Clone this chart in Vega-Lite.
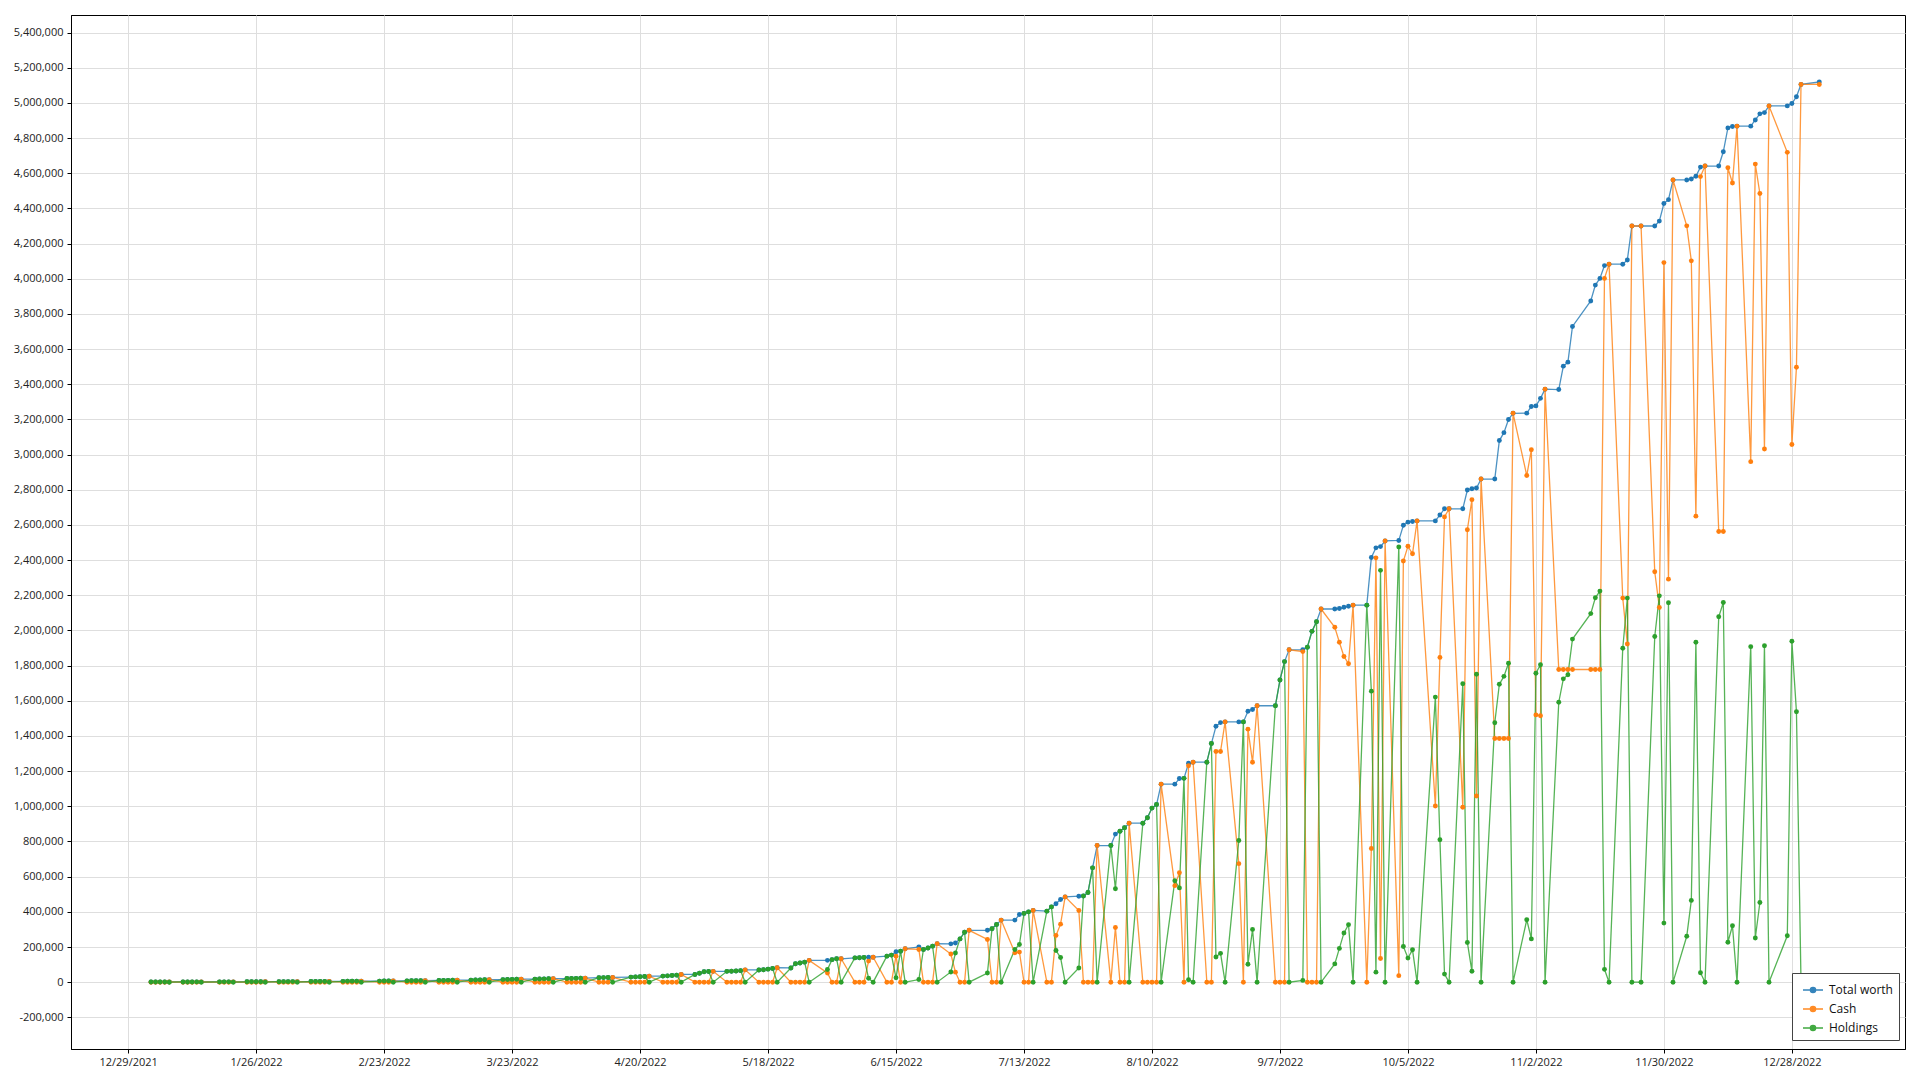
{
"$schema": "https://vega.github.io/schema/vega-lite/v6.json",
"width": 1834, "height": 1034,
"autosize": {"type": "none"},
"padding": {"left": 71, "top": 15, "right": 15, "bottom": 31},
"background": "white",
"config": {
  "font": "Open Sans",
  "view": {"stroke": "#000", "strokeWidth": 1},
  "axis": {"labelFont": "Open Sans", "labelFontSize": 11, "labelColor": "#222", "gridColor": "#dedede", "gridWidth": 1, "domainColor": "#000", "tickColor": "#000", "title": null, "labelOverlap": false, "labelFlush": false}
},
"data": {"values": [
{"d":"2022-01-03","s":"Total worth","v":1000},{"d":"2022-01-04","s":"Total worth","v":1050},{"d":"2022-01-05","s":"Total worth","v":1100},{"d":"2022-01-06","s":"Total worth","v":1150},{"d":"2022-01-07","s":"Total worth","v":1200},
{"d":"2022-01-10","s":"Total worth","v":1300},{"d":"2022-01-11","s":"Total worth","v":1350},{"d":"2022-01-12","s":"Total worth","v":1400},{"d":"2022-01-13","s":"Total worth","v":1500},{"d":"2022-01-14","s":"Total worth","v":1550},
{"d":"2022-01-18","s":"Total worth","v":1650},{"d":"2022-01-19","s":"Total worth","v":1750},{"d":"2022-01-20","s":"Total worth","v":1850},{"d":"2022-01-21","s":"Total worth","v":1950},
{"d":"2022-01-24","s":"Total worth","v":2100},{"d":"2022-01-25","s":"Total worth","v":2200},{"d":"2022-01-26","s":"Total worth","v":2350},{"d":"2022-01-27","s":"Total worth","v":2450},{"d":"2022-01-28","s":"Total worth","v":2600},
{"d":"2022-01-31","s":"Total worth","v":2750},{"d":"2022-02-01","s":"Total worth","v":2900},{"d":"2022-02-02","s":"Total worth","v":3050},{"d":"2022-02-03","s":"Total worth","v":3200},{"d":"2022-02-04","s":"Total worth","v":3400},
{"d":"2022-02-07","s":"Total worth","v":3600},{"d":"2022-02-08","s":"Total worth","v":3800},{"d":"2022-02-09","s":"Total worth","v":4000},{"d":"2022-02-10","s":"Total worth","v":4200},{"d":"2022-02-11","s":"Total worth","v":4400},
{"d":"2022-02-14","s":"Total worth","v":4650},{"d":"2022-02-15","s":"Total worth","v":4900},{"d":"2022-02-16","s":"Total worth","v":5150},{"d":"2022-02-17","s":"Total worth","v":5400},{"d":"2022-02-18","s":"Total worth","v":5700},
{"d":"2022-02-22","s":"Total worth","v":6000},{"d":"2022-02-23","s":"Total worth","v":6400},{"d":"2022-02-24","s":"Total worth","v":6700},{"d":"2022-02-25","s":"Total worth","v":7100},
{"d":"2022-02-28","s":"Total worth","v":7400},{"d":"2022-03-01","s":"Total worth","v":7800},{"d":"2022-03-02","s":"Total worth","v":8200},{"d":"2022-03-03","s":"Total worth","v":8600},{"d":"2022-03-04","s":"Total worth","v":9000},
{"d":"2022-03-07","s":"Total worth","v":9400},{"d":"2022-03-08","s":"Total worth","v":9900},{"d":"2022-03-09","s":"Total worth","v":10400},{"d":"2022-03-10","s":"Total worth","v":10900},{"d":"2022-03-11","s":"Total worth","v":11400},
{"d":"2022-03-14","s":"Total worth","v":11900},{"d":"2022-03-15","s":"Total worth","v":12400},{"d":"2022-03-16","s":"Total worth","v":12900},{"d":"2022-03-17","s":"Total worth","v":13500},{"d":"2022-03-18","s":"Total worth","v":14000},
{"d":"2022-03-21","s":"Total worth","v":14600},{"d":"2022-03-22","s":"Total worth","v":15200},{"d":"2022-03-23","s":"Total worth","v":15800},{"d":"2022-03-24","s":"Total worth","v":16400},{"d":"2022-03-25","s":"Total worth","v":17000},
{"d":"2022-03-28","s":"Total worth","v":17600},{"d":"2022-03-29","s":"Total worth","v":18200},{"d":"2022-03-30","s":"Total worth","v":18800},{"d":"2022-03-31","s":"Total worth","v":19400},{"d":"2022-04-01","s":"Total worth","v":20000},
{"d":"2022-04-04","s":"Total worth","v":20600},{"d":"2022-04-05","s":"Total worth","v":21200},{"d":"2022-04-06","s":"Total worth","v":21800},{"d":"2022-04-07","s":"Total worth","v":22400},{"d":"2022-04-08","s":"Total worth","v":23000},
{"d":"2022-04-11","s":"Total worth","v":25500},{"d":"2022-04-12","s":"Total worth","v":26000},{"d":"2022-04-13","s":"Total worth","v":26500},{"d":"2022-04-14","s":"Total worth","v":27000},
{"d":"2022-04-18","s":"Total worth","v":29000},{"d":"2022-04-19","s":"Total worth","v":30000},{"d":"2022-04-20","s":"Total worth","v":31000},{"d":"2022-04-21","s":"Total worth","v":32000},{"d":"2022-04-22","s":"Total worth","v":34000},
{"d":"2022-04-25","s":"Total worth","v":34500},{"d":"2022-04-26","s":"Total worth","v":36000},{"d":"2022-04-27","s":"Total worth","v":38000},{"d":"2022-04-28","s":"Total worth","v":40000},{"d":"2022-04-29","s":"Total worth","v":44000},
{"d":"2022-05-02","s":"Total worth","v":44000},{"d":"2022-05-03","s":"Total worth","v":51000},{"d":"2022-05-04","s":"Total worth","v":59000},{"d":"2022-05-05","s":"Total worth","v":61000},{"d":"2022-05-06","s":"Total worth","v":61500},
{"d":"2022-05-09","s":"Total worth","v":61500},{"d":"2022-05-10","s":"Total worth","v":62000},{"d":"2022-05-11","s":"Total worth","v":63500},{"d":"2022-05-12","s":"Total worth","v":65500},{"d":"2022-05-13","s":"Total worth","v":70000},
{"d":"2022-05-16","s":"Total worth","v":69500},{"d":"2022-05-17","s":"Total worth","v":71000},{"d":"2022-05-18","s":"Total worth","v":74000},{"d":"2022-05-19","s":"Total worth","v":78000},{"d":"2022-05-20","s":"Total worth","v":82000},
{"d":"2022-05-23","s":"Total worth","v":81000},{"d":"2022-05-24","s":"Total worth","v":105000},{"d":"2022-05-25","s":"Total worth","v":109000},{"d":"2022-05-26","s":"Total worth","v":114000},{"d":"2022-05-27","s":"Total worth","v":124000},
{"d":"2022-05-31","s":"Total worth","v":124000},{"d":"2022-06-01","s":"Total worth","v":128000},{"d":"2022-06-02","s":"Total worth","v":133000},{"d":"2022-06-03","s":"Total worth","v":133000},
{"d":"2022-06-06","s":"Total worth","v":138000},{"d":"2022-06-07","s":"Total worth","v":139000},{"d":"2022-06-08","s":"Total worth","v":140000},{"d":"2022-06-09","s":"Total worth","v":142000},{"d":"2022-06-10","s":"Total worth","v":142000},
{"d":"2022-06-13","s":"Total worth","v":148000},{"d":"2022-06-14","s":"Total worth","v":154000},{"d":"2022-06-15","s":"Total worth","v":173000},{"d":"2022-06-16","s":"Total worth","v":176000},{"d":"2022-06-17","s":"Total worth","v":190000},
{"d":"2022-06-20","s":"Total worth","v":201000},{"d":"2022-06-21","s":"Total worth","v":186000},{"d":"2022-06-22","s":"Total worth","v":194000},{"d":"2022-06-23","s":"Total worth","v":205000},{"d":"2022-06-24","s":"Total worth","v":219000},
{"d":"2022-06-27","s":"Total worth","v":218000},{"d":"2022-06-28","s":"Total worth","v":223000},{"d":"2022-06-29","s":"Total worth","v":246000},{"d":"2022-06-30","s":"Total worth","v":284000},{"d":"2022-07-01","s":"Total worth","v":295000},
{"d":"2022-07-05","s":"Total worth","v":295000},{"d":"2022-07-06","s":"Total worth","v":304000},{"d":"2022-07-07","s":"Total worth","v":328000},{"d":"2022-07-08","s":"Total worth","v":353000},
{"d":"2022-07-11","s":"Total worth","v":353000},{"d":"2022-07-12","s":"Total worth","v":385000},{"d":"2022-07-13","s":"Total worth","v":391000},{"d":"2022-07-14","s":"Total worth","v":400000},{"d":"2022-07-15","s":"Total worth","v":408000},
{"d":"2022-07-18","s":"Total worth","v":404000},{"d":"2022-07-19","s":"Total worth","v":428000},{"d":"2022-07-20","s":"Total worth","v":446000},{"d":"2022-07-21","s":"Total worth","v":470000},{"d":"2022-07-22","s":"Total worth","v":485000},
{"d":"2022-07-25","s":"Total worth","v":489000},{"d":"2022-07-26","s":"Total worth","v":490000},{"d":"2022-07-27","s":"Total worth","v":510000},{"d":"2022-07-28","s":"Total worth","v":650000},{"d":"2022-07-29","s":"Total worth","v":777000},
{"d":"2022-08-01","s":"Total worth","v":777000},{"d":"2022-08-02","s":"Total worth","v":842000},{"d":"2022-08-03","s":"Total worth","v":858000},{"d":"2022-08-04","s":"Total worth","v":878000},{"d":"2022-08-05","s":"Total worth","v":904000},
{"d":"2022-08-08","s":"Total worth","v":904000},{"d":"2022-08-09","s":"Total worth","v":935000},{"d":"2022-08-10","s":"Total worth","v":990000},{"d":"2022-08-11","s":"Total worth","v":1010000},{"d":"2022-08-12","s":"Total worth","v":1126000},
{"d":"2022-08-15","s":"Total worth","v":1126000},{"d":"2022-08-16","s":"Total worth","v":1158000},{"d":"2022-08-17","s":"Total worth","v":1159000},{"d":"2022-08-18","s":"Total worth","v":1245000},{"d":"2022-08-19","s":"Total worth","v":1251000},
{"d":"2022-08-22","s":"Total worth","v":1251000},{"d":"2022-08-23","s":"Total worth","v":1357000},{"d":"2022-08-24","s":"Total worth","v":1455000},{"d":"2022-08-25","s":"Total worth","v":1476000},{"d":"2022-08-26","s":"Total worth","v":1480000},
{"d":"2022-08-29","s":"Total worth","v":1480000},{"d":"2022-08-30","s":"Total worth","v":1480000},{"d":"2022-08-31","s":"Total worth","v":1541000},{"d":"2022-09-01","s":"Total worth","v":1551000},{"d":"2022-09-02","s":"Total worth","v":1572000},
{"d":"2022-09-06","s":"Total worth","v":1572000},{"d":"2022-09-07","s":"Total worth","v":1718000},{"d":"2022-09-08","s":"Total worth","v":1823000},{"d":"2022-09-09","s":"Total worth","v":1890000},
{"d":"2022-09-12","s":"Total worth","v":1890000},{"d":"2022-09-13","s":"Total worth","v":1905000},{"d":"2022-09-14","s":"Total worth","v":1995000},{"d":"2022-09-15","s":"Total worth","v":2050000},{"d":"2022-09-16","s":"Total worth","v":2122000},
{"d":"2022-09-19","s":"Total worth","v":2122000},{"d":"2022-09-20","s":"Total worth","v":2125000},{"d":"2022-09-21","s":"Total worth","v":2132000},{"d":"2022-09-22","s":"Total worth","v":2138000},{"d":"2022-09-23","s":"Total worth","v":2144000},
{"d":"2022-09-26","s":"Total worth","v":2144000},{"d":"2022-09-27","s":"Total worth","v":2415000},{"d":"2022-09-28","s":"Total worth","v":2470000},{"d":"2022-09-29","s":"Total worth","v":2477000},{"d":"2022-09-30","s":"Total worth","v":2509000},
{"d":"2022-10-03","s":"Total worth","v":2512000},{"d":"2022-10-04","s":"Total worth","v":2598000},{"d":"2022-10-05","s":"Total worth","v":2616000},{"d":"2022-10-06","s":"Total worth","v":2620000},{"d":"2022-10-07","s":"Total worth","v":2623000},
{"d":"2022-10-11","s":"Total worth","v":2623000},{"d":"2022-10-12","s":"Total worth","v":2657000},{"d":"2022-10-13","s":"Total worth","v":2692000},{"d":"2022-10-14","s":"Total worth","v":2692000},
{"d":"2022-10-17","s":"Total worth","v":2692000},{"d":"2022-10-18","s":"Total worth","v":2799000},{"d":"2022-10-19","s":"Total worth","v":2806000},{"d":"2022-10-20","s":"Total worth","v":2810000},{"d":"2022-10-21","s":"Total worth","v":2861000},
{"d":"2022-10-24","s":"Total worth","v":2861000},{"d":"2022-10-25","s":"Total worth","v":3080000},{"d":"2022-10-26","s":"Total worth","v":3125000},{"d":"2022-10-27","s":"Total worth","v":3200000},{"d":"2022-10-28","s":"Total worth","v":3235000},
{"d":"2022-10-31","s":"Total worth","v":3236000},{"d":"2022-11-01","s":"Total worth","v":3274000},{"d":"2022-11-02","s":"Total worth","v":3277000},{"d":"2022-11-03","s":"Total worth","v":3320000},{"d":"2022-11-04","s":"Total worth","v":3372000},
{"d":"2022-11-07","s":"Total worth","v":3370000},{"d":"2022-11-08","s":"Total worth","v":3503000},{"d":"2022-11-09","s":"Total worth","v":3526000},{"d":"2022-11-10","s":"Total worth","v":3729000},
{"d":"2022-11-14","s":"Total worth","v":3874000},{"d":"2022-11-15","s":"Total worth","v":3964000},{"d":"2022-11-16","s":"Total worth","v":4002000},{"d":"2022-11-17","s":"Total worth","v":4075000},{"d":"2022-11-18","s":"Total worth","v":4083000},
{"d":"2022-11-21","s":"Total worth","v":4083000},{"d":"2022-11-22","s":"Total worth","v":4107000},{"d":"2022-11-23","s":"Total worth","v":4300000},{"d":"2022-11-25","s":"Total worth","v":4300000},
{"d":"2022-11-28","s":"Total worth","v":4300000},{"d":"2022-11-29","s":"Total worth","v":4328000},{"d":"2022-11-30","s":"Total worth","v":4428000},{"d":"2022-12-01","s":"Total worth","v":4450000},{"d":"2022-12-02","s":"Total worth","v":4562000},
{"d":"2022-12-05","s":"Total worth","v":4562000},{"d":"2022-12-06","s":"Total worth","v":4567000},{"d":"2022-12-07","s":"Total worth","v":4583000},{"d":"2022-12-08","s":"Total worth","v":4635000},{"d":"2022-12-09","s":"Total worth","v":4641000},
{"d":"2022-12-12","s":"Total worth","v":4641000},{"d":"2022-12-13","s":"Total worth","v":4722000},{"d":"2022-12-14","s":"Total worth","v":4858000},{"d":"2022-12-15","s":"Total worth","v":4866000},{"d":"2022-12-16","s":"Total worth","v":4868000},
{"d":"2022-12-19","s":"Total worth","v":4868000},{"d":"2022-12-20","s":"Total worth","v":4903000},{"d":"2022-12-21","s":"Total worth","v":4938000},{"d":"2022-12-22","s":"Total worth","v":4945000},{"d":"2022-12-23","s":"Total worth","v":4983000},
{"d":"2022-12-27","s":"Total worth","v":4983000},{"d":"2022-12-28","s":"Total worth","v":4997000},{"d":"2022-12-29","s":"Total worth","v":5035000},{"d":"2022-12-30","s":"Total worth","v":5105000},{"d":"2023-01-03","s":"Total worth","v":5119000},

{"d":"2022-01-03","s":"Cash","v":0},{"d":"2022-01-04","s":"Cash","v":0},{"d":"2022-01-05","s":"Cash","v":0},{"d":"2022-01-06","s":"Cash","v":0},{"d":"2022-01-07","s":"Cash","v":1200},
{"d":"2022-01-10","s":"Cash","v":0},{"d":"2022-01-11","s":"Cash","v":0},{"d":"2022-01-12","s":"Cash","v":0},{"d":"2022-01-13","s":"Cash","v":0},{"d":"2022-01-14","s":"Cash","v":1550},
{"d":"2022-01-18","s":"Cash","v":0},{"d":"2022-01-19","s":"Cash","v":0},{"d":"2022-01-20","s":"Cash","v":0},{"d":"2022-01-21","s":"Cash","v":1950},
{"d":"2022-01-24","s":"Cash","v":0},{"d":"2022-01-25","s":"Cash","v":0},{"d":"2022-01-26","s":"Cash","v":0},{"d":"2022-01-27","s":"Cash","v":0},{"d":"2022-01-28","s":"Cash","v":2600},
{"d":"2022-01-31","s":"Cash","v":0},{"d":"2022-02-01","s":"Cash","v":0},{"d":"2022-02-02","s":"Cash","v":0},{"d":"2022-02-03","s":"Cash","v":0},{"d":"2022-02-04","s":"Cash","v":3400},
{"d":"2022-02-07","s":"Cash","v":0},{"d":"2022-02-08","s":"Cash","v":0},{"d":"2022-02-09","s":"Cash","v":0},{"d":"2022-02-10","s":"Cash","v":0},{"d":"2022-02-11","s":"Cash","v":4400},
{"d":"2022-02-14","s":"Cash","v":0},{"d":"2022-02-15","s":"Cash","v":0},{"d":"2022-02-16","s":"Cash","v":0},{"d":"2022-02-17","s":"Cash","v":0},{"d":"2022-02-18","s":"Cash","v":5700},
{"d":"2022-02-22","s":"Cash","v":0},{"d":"2022-02-23","s":"Cash","v":0},{"d":"2022-02-24","s":"Cash","v":0},{"d":"2022-02-25","s":"Cash","v":7100},
{"d":"2022-02-28","s":"Cash","v":0},{"d":"2022-03-01","s":"Cash","v":0},{"d":"2022-03-02","s":"Cash","v":0},{"d":"2022-03-03","s":"Cash","v":0},{"d":"2022-03-04","s":"Cash","v":9000},
{"d":"2022-03-07","s":"Cash","v":0},{"d":"2022-03-08","s":"Cash","v":0},{"d":"2022-03-09","s":"Cash","v":0},{"d":"2022-03-10","s":"Cash","v":0},{"d":"2022-03-11","s":"Cash","v":11400},
{"d":"2022-03-14","s":"Cash","v":0},{"d":"2022-03-15","s":"Cash","v":0},{"d":"2022-03-16","s":"Cash","v":0},{"d":"2022-03-17","s":"Cash","v":0},{"d":"2022-03-18","s":"Cash","v":14000},
{"d":"2022-03-21","s":"Cash","v":0},{"d":"2022-03-22","s":"Cash","v":0},{"d":"2022-03-23","s":"Cash","v":0},{"d":"2022-03-24","s":"Cash","v":0},{"d":"2022-03-25","s":"Cash","v":17000},
{"d":"2022-03-28","s":"Cash","v":0},{"d":"2022-03-29","s":"Cash","v":0},{"d":"2022-03-30","s":"Cash","v":0},{"d":"2022-03-31","s":"Cash","v":0},{"d":"2022-04-01","s":"Cash","v":20000},
{"d":"2022-04-04","s":"Cash","v":0},{"d":"2022-04-05","s":"Cash","v":0},{"d":"2022-04-06","s":"Cash","v":0},{"d":"2022-04-07","s":"Cash","v":0},{"d":"2022-04-08","s":"Cash","v":23000},
{"d":"2022-04-11","s":"Cash","v":0},{"d":"2022-04-12","s":"Cash","v":0},{"d":"2022-04-13","s":"Cash","v":0},{"d":"2022-04-14","s":"Cash","v":27000},
{"d":"2022-04-18","s":"Cash","v":0},{"d":"2022-04-19","s":"Cash","v":0},{"d":"2022-04-20","s":"Cash","v":0},{"d":"2022-04-21","s":"Cash","v":0},{"d":"2022-04-22","s":"Cash","v":34000},
{"d":"2022-04-25","s":"Cash","v":0},{"d":"2022-04-26","s":"Cash","v":0},{"d":"2022-04-27","s":"Cash","v":0},{"d":"2022-04-28","s":"Cash","v":0},{"d":"2022-04-29","s":"Cash","v":44000},
{"d":"2022-05-02","s":"Cash","v":0},{"d":"2022-05-03","s":"Cash","v":0},{"d":"2022-05-04","s":"Cash","v":0},{"d":"2022-05-05","s":"Cash","v":0},{"d":"2022-05-06","s":"Cash","v":61500},
{"d":"2022-05-09","s":"Cash","v":0},{"d":"2022-05-10","s":"Cash","v":0},{"d":"2022-05-11","s":"Cash","v":0},{"d":"2022-05-12","s":"Cash","v":0},{"d":"2022-05-13","s":"Cash","v":70000},
{"d":"2022-05-16","s":"Cash","v":0},{"d":"2022-05-17","s":"Cash","v":0},{"d":"2022-05-18","s":"Cash","v":0},{"d":"2022-05-19","s":"Cash","v":0},{"d":"2022-05-20","s":"Cash","v":82000},
{"d":"2022-05-23","s":"Cash","v":0},{"d":"2022-05-24","s":"Cash","v":0},{"d":"2022-05-25","s":"Cash","v":0},{"d":"2022-05-26","s":"Cash","v":0},{"d":"2022-05-27","s":"Cash","v":124000},
{"d":"2022-05-31","s":"Cash","v":52000},{"d":"2022-06-01","s":"Cash","v":0},{"d":"2022-06-02","s":"Cash","v":0},{"d":"2022-06-03","s":"Cash","v":133000},
{"d":"2022-06-06","s":"Cash","v":0},{"d":"2022-06-07","s":"Cash","v":0},{"d":"2022-06-08","s":"Cash","v":0},{"d":"2022-06-09","s":"Cash","v":120000},{"d":"2022-06-10","s":"Cash","v":142000},
{"d":"2022-06-13","s":"Cash","v":0},{"d":"2022-06-14","s":"Cash","v":0},{"d":"2022-06-15","s":"Cash","v":148000},{"d":"2022-06-16","s":"Cash","v":0},{"d":"2022-06-17","s":"Cash","v":190000},
{"d":"2022-06-20","s":"Cash","v":186000},{"d":"2022-06-21","s":"Cash","v":0},{"d":"2022-06-22","s":"Cash","v":0},{"d":"2022-06-23","s":"Cash","v":0},{"d":"2022-06-24","s":"Cash","v":219000},
{"d":"2022-06-27","s":"Cash","v":160000},{"d":"2022-06-28","s":"Cash","v":57000},{"d":"2022-06-29","s":"Cash","v":0},{"d":"2022-06-30","s":"Cash","v":0},{"d":"2022-07-01","s":"Cash","v":295000},
{"d":"2022-07-05","s":"Cash","v":243000},{"d":"2022-07-06","s":"Cash","v":0},{"d":"2022-07-07","s":"Cash","v":0},{"d":"2022-07-08","s":"Cash","v":353000},
{"d":"2022-07-11","s":"Cash","v":167000},{"d":"2022-07-12","s":"Cash","v":171000},{"d":"2022-07-13","s":"Cash","v":0},{"d":"2022-07-14","s":"Cash","v":0},{"d":"2022-07-15","s":"Cash","v":408000},
{"d":"2022-07-18","s":"Cash","v":0},{"d":"2022-07-19","s":"Cash","v":0},{"d":"2022-07-20","s":"Cash","v":266000},{"d":"2022-07-21","s":"Cash","v":330000},{"d":"2022-07-22","s":"Cash","v":485000},
{"d":"2022-07-25","s":"Cash","v":408000},{"d":"2022-07-26","s":"Cash","v":0},{"d":"2022-07-27","s":"Cash","v":0},{"d":"2022-07-28","s":"Cash","v":0},{"d":"2022-07-29","s":"Cash","v":777000},
{"d":"2022-08-01","s":"Cash","v":0},{"d":"2022-08-02","s":"Cash","v":311000},{"d":"2022-08-03","s":"Cash","v":0},{"d":"2022-08-04","s":"Cash","v":0},{"d":"2022-08-05","s":"Cash","v":904000},
{"d":"2022-08-08","s":"Cash","v":0},{"d":"2022-08-09","s":"Cash","v":0},{"d":"2022-08-10","s":"Cash","v":0},{"d":"2022-08-11","s":"Cash","v":0},{"d":"2022-08-12","s":"Cash","v":1126000},
{"d":"2022-08-15","s":"Cash","v":549000},{"d":"2022-08-16","s":"Cash","v":622000},{"d":"2022-08-17","s":"Cash","v":0},{"d":"2022-08-18","s":"Cash","v":1231000},{"d":"2022-08-19","s":"Cash","v":1251000},
{"d":"2022-08-22","s":"Cash","v":0},{"d":"2022-08-23","s":"Cash","v":0},{"d":"2022-08-24","s":"Cash","v":1312000},{"d":"2022-08-25","s":"Cash","v":1312000},{"d":"2022-08-26","s":"Cash","v":1480000},
{"d":"2022-08-29","s":"Cash","v":674000},{"d":"2022-08-30","s":"Cash","v":0},{"d":"2022-08-31","s":"Cash","v":1439000},{"d":"2022-09-01","s":"Cash","v":1251000},{"d":"2022-09-02","s":"Cash","v":1572000},
{"d":"2022-09-06","s":"Cash","v":0},{"d":"2022-09-07","s":"Cash","v":0},{"d":"2022-09-08","s":"Cash","v":0},{"d":"2022-09-09","s":"Cash","v":1890000},
{"d":"2022-09-12","s":"Cash","v":1880000},{"d":"2022-09-13","s":"Cash","v":0},{"d":"2022-09-14","s":"Cash","v":0},{"d":"2022-09-15","s":"Cash","v":0},{"d":"2022-09-16","s":"Cash","v":2122000},
{"d":"2022-09-19","s":"Cash","v":2018000},{"d":"2022-09-20","s":"Cash","v":1933000},{"d":"2022-09-21","s":"Cash","v":1852000},{"d":"2022-09-22","s":"Cash","v":1811000},{"d":"2022-09-23","s":"Cash","v":2144000},
{"d":"2022-09-26","s":"Cash","v":0},{"d":"2022-09-27","s":"Cash","v":760000},{"d":"2022-09-28","s":"Cash","v":2413000},{"d":"2022-09-29","s":"Cash","v":135000},{"d":"2022-09-30","s":"Cash","v":2509000},
{"d":"2022-10-03","s":"Cash","v":37000},{"d":"2022-10-04","s":"Cash","v":2395000},{"d":"2022-10-05","s":"Cash","v":2479000},{"d":"2022-10-06","s":"Cash","v":2436000},{"d":"2022-10-07","s":"Cash","v":2623000},
{"d":"2022-10-11","s":"Cash","v":1002000},{"d":"2022-10-12","s":"Cash","v":1847000},{"d":"2022-10-13","s":"Cash","v":2646000},{"d":"2022-10-14","s":"Cash","v":2692000},
{"d":"2022-10-17","s":"Cash","v":995000},{"d":"2022-10-18","s":"Cash","v":2573000},{"d":"2022-10-19","s":"Cash","v":2744000},{"d":"2022-10-20","s":"Cash","v":1059000},{"d":"2022-10-21","s":"Cash","v":2861000},
{"d":"2022-10-24","s":"Cash","v":1386000},{"d":"2022-10-25","s":"Cash","v":1386000},{"d":"2022-10-26","s":"Cash","v":1386000},{"d":"2022-10-27","s":"Cash","v":1386000},{"d":"2022-10-28","s":"Cash","v":3235000},
{"d":"2022-10-31","s":"Cash","v":2881000},{"d":"2022-11-01","s":"Cash","v":3028000},{"d":"2022-11-02","s":"Cash","v":1520000},{"d":"2022-11-03","s":"Cash","v":1515000},{"d":"2022-11-04","s":"Cash","v":3372000},
{"d":"2022-11-07","s":"Cash","v":1778000},{"d":"2022-11-08","s":"Cash","v":1778000},{"d":"2022-11-09","s":"Cash","v":1778000},{"d":"2022-11-10","s":"Cash","v":1778000},
{"d":"2022-11-14","s":"Cash","v":1778000},{"d":"2022-11-15","s":"Cash","v":1778000},{"d":"2022-11-16","s":"Cash","v":1778000},{"d":"2022-11-17","s":"Cash","v":4002000},{"d":"2022-11-18","s":"Cash","v":4083000},
{"d":"2022-11-21","s":"Cash","v":2184000},{"d":"2022-11-22","s":"Cash","v":1923000},{"d":"2022-11-23","s":"Cash","v":4300000},{"d":"2022-11-25","s":"Cash","v":4300000},
{"d":"2022-11-28","s":"Cash","v":2334000},{"d":"2022-11-29","s":"Cash","v":2131000},{"d":"2022-11-30","s":"Cash","v":4092000},{"d":"2022-12-01","s":"Cash","v":2292000},{"d":"2022-12-02","s":"Cash","v":4562000},
{"d":"2022-12-05","s":"Cash","v":4301000},{"d":"2022-12-06","s":"Cash","v":4102000},{"d":"2022-12-07","s":"Cash","v":2650000},{"d":"2022-12-08","s":"Cash","v":4581000},{"d":"2022-12-09","s":"Cash","v":4641000},
{"d":"2022-12-12","s":"Cash","v":2563000},{"d":"2022-12-13","s":"Cash","v":2563000},{"d":"2022-12-14","s":"Cash","v":4631000},{"d":"2022-12-15","s":"Cash","v":4545000},{"d":"2022-12-16","s":"Cash","v":4868000},
{"d":"2022-12-19","s":"Cash","v":2960000},{"d":"2022-12-20","s":"Cash","v":4652000},{"d":"2022-12-21","s":"Cash","v":4485000},{"d":"2022-12-22","s":"Cash","v":3032000},{"d":"2022-12-23","s":"Cash","v":4983000},
{"d":"2022-12-27","s":"Cash","v":4719000},{"d":"2022-12-28","s":"Cash","v":3058000},{"d":"2022-12-29","s":"Cash","v":3497000},{"d":"2022-12-30","s":"Cash","v":5105000},{"d":"2023-01-03","s":"Cash","v":5105000},

{"d":"2022-01-03","s":"Holdings","v":1000},{"d":"2022-01-04","s":"Holdings","v":1050},{"d":"2022-01-05","s":"Holdings","v":1100},{"d":"2022-01-06","s":"Holdings","v":1150},{"d":"2022-01-07","s":"Holdings","v":0},
{"d":"2022-01-10","s":"Holdings","v":1300},{"d":"2022-01-11","s":"Holdings","v":1350},{"d":"2022-01-12","s":"Holdings","v":1400},{"d":"2022-01-13","s":"Holdings","v":1500},{"d":"2022-01-14","s":"Holdings","v":0},
{"d":"2022-01-18","s":"Holdings","v":1650},{"d":"2022-01-19","s":"Holdings","v":1750},{"d":"2022-01-20","s":"Holdings","v":1850},{"d":"2022-01-21","s":"Holdings","v":0},
{"d":"2022-01-24","s":"Holdings","v":2100},{"d":"2022-01-25","s":"Holdings","v":2200},{"d":"2022-01-26","s":"Holdings","v":2350},{"d":"2022-01-27","s":"Holdings","v":2450},{"d":"2022-01-28","s":"Holdings","v":0},
{"d":"2022-01-31","s":"Holdings","v":2750},{"d":"2022-02-01","s":"Holdings","v":2900},{"d":"2022-02-02","s":"Holdings","v":3050},{"d":"2022-02-03","s":"Holdings","v":3200},{"d":"2022-02-04","s":"Holdings","v":0},
{"d":"2022-02-07","s":"Holdings","v":3600},{"d":"2022-02-08","s":"Holdings","v":3800},{"d":"2022-02-09","s":"Holdings","v":4000},{"d":"2022-02-10","s":"Holdings","v":4200},{"d":"2022-02-11","s":"Holdings","v":0},
{"d":"2022-02-14","s":"Holdings","v":4650},{"d":"2022-02-15","s":"Holdings","v":4900},{"d":"2022-02-16","s":"Holdings","v":5150},{"d":"2022-02-17","s":"Holdings","v":5400},{"d":"2022-02-18","s":"Holdings","v":0},
{"d":"2022-02-22","s":"Holdings","v":6000},{"d":"2022-02-23","s":"Holdings","v":6400},{"d":"2022-02-24","s":"Holdings","v":6700},{"d":"2022-02-25","s":"Holdings","v":0},
{"d":"2022-02-28","s":"Holdings","v":7400},{"d":"2022-03-01","s":"Holdings","v":7800},{"d":"2022-03-02","s":"Holdings","v":8200},{"d":"2022-03-03","s":"Holdings","v":8600},{"d":"2022-03-04","s":"Holdings","v":0},
{"d":"2022-03-07","s":"Holdings","v":9400},{"d":"2022-03-08","s":"Holdings","v":9900},{"d":"2022-03-09","s":"Holdings","v":10400},{"d":"2022-03-10","s":"Holdings","v":10900},{"d":"2022-03-11","s":"Holdings","v":0},
{"d":"2022-03-14","s":"Holdings","v":11900},{"d":"2022-03-15","s":"Holdings","v":12400},{"d":"2022-03-16","s":"Holdings","v":12900},{"d":"2022-03-17","s":"Holdings","v":13500},{"d":"2022-03-18","s":"Holdings","v":0},
{"d":"2022-03-21","s":"Holdings","v":14600},{"d":"2022-03-22","s":"Holdings","v":15200},{"d":"2022-03-23","s":"Holdings","v":15800},{"d":"2022-03-24","s":"Holdings","v":16400},{"d":"2022-03-25","s":"Holdings","v":0},
{"d":"2022-03-28","s":"Holdings","v":17600},{"d":"2022-03-29","s":"Holdings","v":18200},{"d":"2022-03-30","s":"Holdings","v":18800},{"d":"2022-03-31","s":"Holdings","v":19400},{"d":"2022-04-01","s":"Holdings","v":0},
{"d":"2022-04-04","s":"Holdings","v":20600},{"d":"2022-04-05","s":"Holdings","v":21200},{"d":"2022-04-06","s":"Holdings","v":21800},{"d":"2022-04-07","s":"Holdings","v":22400},{"d":"2022-04-08","s":"Holdings","v":0},
{"d":"2022-04-11","s":"Holdings","v":25500},{"d":"2022-04-12","s":"Holdings","v":26000},{"d":"2022-04-13","s":"Holdings","v":26500},{"d":"2022-04-14","s":"Holdings","v":0},
{"d":"2022-04-18","s":"Holdings","v":29000},{"d":"2022-04-19","s":"Holdings","v":30000},{"d":"2022-04-20","s":"Holdings","v":31000},{"d":"2022-04-21","s":"Holdings","v":32000},{"d":"2022-04-22","s":"Holdings","v":0},
{"d":"2022-04-25","s":"Holdings","v":34500},{"d":"2022-04-26","s":"Holdings","v":36000},{"d":"2022-04-27","s":"Holdings","v":38000},{"d":"2022-04-28","s":"Holdings","v":40000},{"d":"2022-04-29","s":"Holdings","v":0},
{"d":"2022-05-02","s":"Holdings","v":44000},{"d":"2022-05-03","s":"Holdings","v":51000},{"d":"2022-05-04","s":"Holdings","v":59000},{"d":"2022-05-05","s":"Holdings","v":61000},{"d":"2022-05-06","s":"Holdings","v":0},
{"d":"2022-05-09","s":"Holdings","v":61500},{"d":"2022-05-10","s":"Holdings","v":62000},{"d":"2022-05-11","s":"Holdings","v":63500},{"d":"2022-05-12","s":"Holdings","v":65500},{"d":"2022-05-13","s":"Holdings","v":0},
{"d":"2022-05-16","s":"Holdings","v":69500},{"d":"2022-05-17","s":"Holdings","v":71000},{"d":"2022-05-18","s":"Holdings","v":74000},{"d":"2022-05-19","s":"Holdings","v":78000},{"d":"2022-05-20","s":"Holdings","v":0},
{"d":"2022-05-23","s":"Holdings","v":81000},{"d":"2022-05-24","s":"Holdings","v":105000},{"d":"2022-05-25","s":"Holdings","v":109000},{"d":"2022-05-26","s":"Holdings","v":114000},{"d":"2022-05-27","s":"Holdings","v":0},
{"d":"2022-05-31","s":"Holdings","v":72000},{"d":"2022-06-01","s":"Holdings","v":128000},{"d":"2022-06-02","s":"Holdings","v":133000},{"d":"2022-06-03","s":"Holdings","v":0},
{"d":"2022-06-06","s":"Holdings","v":138000},{"d":"2022-06-07","s":"Holdings","v":139000},{"d":"2022-06-08","s":"Holdings","v":140000},{"d":"2022-06-09","s":"Holdings","v":22000},{"d":"2022-06-10","s":"Holdings","v":0},
{"d":"2022-06-13","s":"Holdings","v":148000},{"d":"2022-06-14","s":"Holdings","v":154000},{"d":"2022-06-15","s":"Holdings","v":25000},{"d":"2022-06-16","s":"Holdings","v":176000},{"d":"2022-06-17","s":"Holdings","v":0},
{"d":"2022-06-20","s":"Holdings","v":15000},{"d":"2022-06-21","s":"Holdings","v":186000},{"d":"2022-06-22","s":"Holdings","v":194000},{"d":"2022-06-23","s":"Holdings","v":205000},{"d":"2022-06-24","s":"Holdings","v":0},
{"d":"2022-06-27","s":"Holdings","v":58000},{"d":"2022-06-28","s":"Holdings","v":166000},{"d":"2022-06-29","s":"Holdings","v":246000},{"d":"2022-06-30","s":"Holdings","v":284000},{"d":"2022-07-01","s":"Holdings","v":0},
{"d":"2022-07-05","s":"Holdings","v":52000},{"d":"2022-07-06","s":"Holdings","v":304000},{"d":"2022-07-07","s":"Holdings","v":328000},{"d":"2022-07-08","s":"Holdings","v":0},
{"d":"2022-07-11","s":"Holdings","v":186000},{"d":"2022-07-12","s":"Holdings","v":214000},{"d":"2022-07-13","s":"Holdings","v":391000},{"d":"2022-07-14","s":"Holdings","v":400000},{"d":"2022-07-15","s":"Holdings","v":0},
{"d":"2022-07-18","s":"Holdings","v":404000},{"d":"2022-07-19","s":"Holdings","v":428000},{"d":"2022-07-20","s":"Holdings","v":180000},{"d":"2022-07-21","s":"Holdings","v":140000},{"d":"2022-07-22","s":"Holdings","v":0},
{"d":"2022-07-25","s":"Holdings","v":81000},{"d":"2022-07-26","s":"Holdings","v":490000},{"d":"2022-07-27","s":"Holdings","v":510000},{"d":"2022-07-28","s":"Holdings","v":650000},{"d":"2022-07-29","s":"Holdings","v":0},
{"d":"2022-08-01","s":"Holdings","v":777000},{"d":"2022-08-02","s":"Holdings","v":531000},{"d":"2022-08-03","s":"Holdings","v":858000},{"d":"2022-08-04","s":"Holdings","v":878000},{"d":"2022-08-05","s":"Holdings","v":0},
{"d":"2022-08-08","s":"Holdings","v":904000},{"d":"2022-08-09","s":"Holdings","v":935000},{"d":"2022-08-10","s":"Holdings","v":990000},{"d":"2022-08-11","s":"Holdings","v":1010000},{"d":"2022-08-12","s":"Holdings","v":0},
{"d":"2022-08-15","s":"Holdings","v":577000},{"d":"2022-08-16","s":"Holdings","v":536000},{"d":"2022-08-17","s":"Holdings","v":1159000},{"d":"2022-08-18","s":"Holdings","v":14000},{"d":"2022-08-19","s":"Holdings","v":0},
{"d":"2022-08-22","s":"Holdings","v":1251000},{"d":"2022-08-23","s":"Holdings","v":1357000},{"d":"2022-08-24","s":"Holdings","v":143000},{"d":"2022-08-25","s":"Holdings","v":164000},{"d":"2022-08-26","s":"Holdings","v":0},
{"d":"2022-08-29","s":"Holdings","v":806000},{"d":"2022-08-30","s":"Holdings","v":1480000},{"d":"2022-08-31","s":"Holdings","v":102000},{"d":"2022-09-01","s":"Holdings","v":300000},{"d":"2022-09-02","s":"Holdings","v":0},
{"d":"2022-09-06","s":"Holdings","v":1572000},{"d":"2022-09-07","s":"Holdings","v":1718000},{"d":"2022-09-08","s":"Holdings","v":1823000},{"d":"2022-09-09","s":"Holdings","v":0},
{"d":"2022-09-12","s":"Holdings","v":10000},{"d":"2022-09-13","s":"Holdings","v":1905000},{"d":"2022-09-14","s":"Holdings","v":1995000},{"d":"2022-09-15","s":"Holdings","v":2050000},{"d":"2022-09-16","s":"Holdings","v":0},
{"d":"2022-09-19","s":"Holdings","v":104000},{"d":"2022-09-20","s":"Holdings","v":192000},{"d":"2022-09-21","s":"Holdings","v":280000},{"d":"2022-09-22","s":"Holdings","v":327000},{"d":"2022-09-23","s":"Holdings","v":0},
{"d":"2022-09-26","s":"Holdings","v":2144000},{"d":"2022-09-27","s":"Holdings","v":1655000},{"d":"2022-09-28","s":"Holdings","v":57000},{"d":"2022-09-29","s":"Holdings","v":2342000},{"d":"2022-09-30","s":"Holdings","v":0},
{"d":"2022-10-03","s":"Holdings","v":2475000},{"d":"2022-10-04","s":"Holdings","v":203000},{"d":"2022-10-05","s":"Holdings","v":137000},{"d":"2022-10-06","s":"Holdings","v":184000},{"d":"2022-10-07","s":"Holdings","v":0},
{"d":"2022-10-11","s":"Holdings","v":1621000},{"d":"2022-10-12","s":"Holdings","v":810000},{"d":"2022-10-13","s":"Holdings","v":46000},{"d":"2022-10-14","s":"Holdings","v":0},
{"d":"2022-10-17","s":"Holdings","v":1697000},{"d":"2022-10-18","s":"Holdings","v":226000},{"d":"2022-10-19","s":"Holdings","v":62000},{"d":"2022-10-20","s":"Holdings","v":1751000},{"d":"2022-10-21","s":"Holdings","v":0},
{"d":"2022-10-24","s":"Holdings","v":1475000},{"d":"2022-10-25","s":"Holdings","v":1694000},{"d":"2022-10-26","s":"Holdings","v":1739000},{"d":"2022-10-27","s":"Holdings","v":1814000},{"d":"2022-10-28","s":"Holdings","v":0},
{"d":"2022-10-31","s":"Holdings","v":355000},{"d":"2022-11-01","s":"Holdings","v":246000},{"d":"2022-11-02","s":"Holdings","v":1757000},{"d":"2022-11-03","s":"Holdings","v":1805000},{"d":"2022-11-04","s":"Holdings","v":0},
{"d":"2022-11-07","s":"Holdings","v":1592000},{"d":"2022-11-08","s":"Holdings","v":1725000},{"d":"2022-11-09","s":"Holdings","v":1748000},{"d":"2022-11-10","s":"Holdings","v":1951000},
{"d":"2022-11-14","s":"Holdings","v":2096000},{"d":"2022-11-15","s":"Holdings","v":2186000},{"d":"2022-11-16","s":"Holdings","v":2224000},{"d":"2022-11-17","s":"Holdings","v":73000},{"d":"2022-11-18","s":"Holdings","v":0},
{"d":"2022-11-21","s":"Holdings","v":1899000},{"d":"2022-11-22","s":"Holdings","v":2184000},{"d":"2022-11-23","s":"Holdings","v":0},{"d":"2022-11-25","s":"Holdings","v":0},
{"d":"2022-11-28","s":"Holdings","v":1966000},{"d":"2022-11-29","s":"Holdings","v":2197000},{"d":"2022-11-30","s":"Holdings","v":336000},{"d":"2022-12-01","s":"Holdings","v":2158000},{"d":"2022-12-02","s":"Holdings","v":0},
{"d":"2022-12-05","s":"Holdings","v":261000},{"d":"2022-12-06","s":"Holdings","v":465000},{"d":"2022-12-07","s":"Holdings","v":1933000},{"d":"2022-12-08","s":"Holdings","v":54000},{"d":"2022-12-09","s":"Holdings","v":0},
{"d":"2022-12-12","s":"Holdings","v":2078000},{"d":"2022-12-13","s":"Holdings","v":2159000},{"d":"2022-12-14","s":"Holdings","v":227000},{"d":"2022-12-15","s":"Holdings","v":321000},{"d":"2022-12-16","s":"Holdings","v":0},
{"d":"2022-12-19","s":"Holdings","v":1908000},{"d":"2022-12-20","s":"Holdings","v":251000},{"d":"2022-12-21","s":"Holdings","v":453000},{"d":"2022-12-22","s":"Holdings","v":1913000},{"d":"2022-12-23","s":"Holdings","v":0},
{"d":"2022-12-27","s":"Holdings","v":264000},{"d":"2022-12-28","s":"Holdings","v":1939000},{"d":"2022-12-29","s":"Holdings","v":1538000},{"d":"2022-12-30","s":"Holdings","v":0},{"d":"2023-01-03","s":"Holdings","v":14000}
]},
"encoding": {
  "x": {"field": "d", "type": "temporal",
    "scale": {"type": "utc", "domain": [{"year": 2021, "month": 12, "date": 16, "hours": 12, "utc": true}, {"year": 2023, "month": 1, "date": 21, "hours": 18, "utc": true}]},
    "axis": {"labelExpr": "utcFormat(datum.value, '%-m/%-d/%Y')", "labelAngle": 0, "tickSize": 4, "labelPadding": 3,
      "values": [{"year":2021,"month":12,"date":29,"utc":true},{"year":2022,"month":1,"date":26,"utc":true},{"year":2022,"month":2,"date":23,"utc":true},{"year":2022,"month":3,"date":23,"utc":true},{"year":2022,"month":4,"date":20,"utc":true},{"year":2022,"month":5,"date":18,"utc":true},{"year":2022,"month":6,"date":15,"utc":true},{"year":2022,"month":7,"date":13,"utc":true},{"year":2022,"month":8,"date":10,"utc":true},{"year":2022,"month":9,"date":7,"utc":true},{"year":2022,"month":10,"date":5,"utc":true},{"year":2022,"month":11,"date":2,"utc":true},{"year":2022,"month":11,"date":30,"utc":true},{"year":2022,"month":12,"date":28,"utc":true}]}},
  "y": {"field": "v", "type": "quantitative",
    "scale": {"domain": [-380000, 5500000], "nice": false, "zero": false},
    "axis": {"tickSize": 4, "labelPadding": 4, "labelExpr": "replace(format(datum.value, ','), '\u2212', '-')",
      "values": [-200000,0,200000,400000,600000,800000,1000000,1200000,1400000,1600000,1800000,2000000,2200000,2400000,2600000,2800000,3000000,3200000,3400000,3600000,3800000,4000000,4200000,4400000,4600000,4800000,5000000,5200000,5400000]}},
  "color": {"field": "s", "type": "nominal",
    "scale": {"domain": ["Total worth", "Cash", "Holdings"], "range": ["#1f77b4", "#ff7f0e", "#2ca02c"]},
    "legend": {"title": null, "orient": "none", "legendX": 1721, "legendY": 958, "direction": "vertical",
      "fillColor": "white", "strokeColor": "#444", "padding": 6, "rowPadding": 2, "labelOffset": 5, "symbolOffset": 4,
      "labelFont": "Open Sans", "labelFontSize": 12, "labelColor": "#111",
      "symbolType": "M-1,0L1,0M0.26,0A0.26,0.26,0,1,1,-0.26,0A0.26,0.26,0,1,1,0.26,0Z",
      "symbolSize": 400, "symbolStrokeWidth": 1.4, "symbolOpacity": 1,
      "encode": {"symbols": {"update": {"fill": {"scale": "color", "field": "value"}, "stroke": {"scale": "color", "field": "value"}, "opacity": {"value": 0.9}}}}}}
},
"layer": [
  {"mark": {"type": "line", "strokeWidth": 1.3, "opacity": 0.8, "interpolate": "linear"}, "encoding": {}},
  {"mark": {"type": "point", "filled": true, "size": 24, "opacity": 1}}
]
}
